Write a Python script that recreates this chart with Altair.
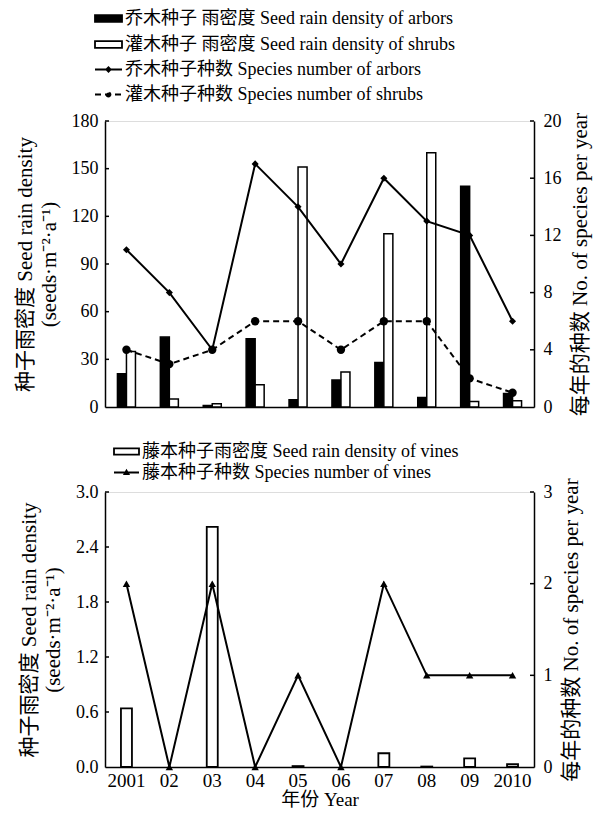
import altair as alt
import pandas as pd

# ---------------- data ----------------
years = ["2001", "02", "03", "04", "05", "06", "07", "08", "09", "2010"]
arbor_density = [21, 44, 1, 43, 4.5, 17, 28, 6, 139, 8.5]
shrub_density = [35, 5, 2, 14, 151, 22, 109, 160, 3.5, 4]
arbor_species = [11, 8, 4, 17, 14, 10, 16, 13, 12, 6]
shrub_species = [4, 3, 4, 6, 6, 4, 6, 6, 2, 1]
vine_density = [0.64, 0, 2.62, 0, 0.01, 0, 0.15, 0.005, 0.095, 0.03]
vine_species = [2, 0, 2, 0, 1, 0, 2, 1, 1, 1]

left_top_ticks = [0, 30, 60, 90, 120, 150, 180]
right_top_ticks = [0, 4, 8, 12, 16, 20]
left_bot_ticks = [0.0, 0.6, 1.2, 1.8, 2.4, 3.0]
right_bot_ticks = [0, 1, 2, 3]

L_ARB_D = "乔木种子 雨密度 Seed rain density of arbors"
L_SHR_D = "灌木种子 雨密度 Seed rain density of shrubs"
L_ARB_S = "乔木种子种数 Species number of arbors"
L_SHR_S = "灌木种子种数 Species number of shrubs"
L_VIN_D = "藤本种子雨密度  Seed rain density of vines"
L_VIN_S = "藤本种子种数 Species number of vines"

LEFT_TITLE = ["种子雨密度  Seed rain density", "(seeds·m⁻²·a⁻¹)"]
RIGHT_TITLE = "每年的种数 No. of species per year"
X_TITLE = "年份 Year"

FONT = "Liberation Serif, Noto Sans CJK SC"
W = 429

# ---------------- tables ----------------
df_bars = pd.DataFrame({
    "year": years * 2,
    "series": [L_ARB_D] * len(years) + [L_SHR_D] * len(years),
    "value": arbor_density + shrub_density,
})
df_arb = pd.DataFrame({"year": years, "n": arbor_species, "s": [L_ARB_S] * len(years)})
df_shr = pd.DataFrame({"year": years, "n": shrub_species, "s": [L_SHR_S] * len(years)})
df_vd = pd.DataFrame({"year": years, "value": vine_density, "s": [L_VIN_D] * len(years)})
df_vs = pd.DataFrame({"year": years, "n": vine_species, "s": [L_VIN_S] * len(years)})

RECT_PATH = "M-1,-0.25H1V0.25H-1Z"
DIAMOND_LINE = "M-1,0H1M-0.16,0L0,-0.16L0.16,0L0,0.16Z"
CIRCLE_LINE = "M-1,0H1M0.15,0A0.15,0.15 0 1 1 -0.15,0A0.15,0.15 0 1 1 0.15,0Z"
TRI_LINE = "M-1,0H1M-0.16,0.12L0,-0.16L0.16,0.12Z"


def legend(x, y, sym, size=729, row_pad=4):
    return alt.Legend(orient="none", legendX=x, legendY=y, title=None, symbolType=sym,
                      symbolSize=size, symbolStrokeColor="black", symbolStrokeWidth=1.8,
                      symbolFillColor="black", labelFont=FONT, labelFontSize=18,
                      labelColor="black", labelLimit=0, labelOffset=2, rowPadding=row_pad,
                      padding=0)


def y_axis(orient, values, fmt):
    common = dict(values=values, format=fmt, tickSize=0, grid=False, domainColor="black",
                  domainWidth=1.5, labelFont=FONT, labelFontSize=18, labelColor="black",
                  titleFont=FONT, titleFontSize=21, titleFontWeight="normal",
                  titleColor="black")
    if orient == "left":
        return alt.Axis(orient="left", title=LEFT_TITLE, labelPadding=7, titlePadding=12,
                        titleLineHeight=24, **common)
    return alt.Axis(orient="right", title=RIGHT_TITLE, labelPadding=9, titlePadding=8,
                    titleAngle=270, titleBaseline="top", **common)


X_SCALE = alt.Scale(domain=years, paddingInner=0.58, paddingOuter=0.29)


def x_enc(show):
    if show:
        ax = alt.Axis(title=X_TITLE, ticks=False, labelAngle=0, labelPadding=4,
                      domainColor="black", domainWidth=1.5, labelFont=FONT, labelFontSize=19,
                      labelColor="black", titleFont=FONT, titleFontSize=19,
                      titleFontWeight="normal", titleColor="black", titlePadding=0)
    else:
        ax = alt.Axis(title=None, labels=False, ticks=False, domainColor="black",
                      domainWidth=1.5)
    return alt.X("year:N", scale=X_SCALE, axis=ax)


def ticks(values, side, domain):
    d = pd.DataFrame({"v": values})
    xs = (alt.value(0), alt.value(4)) if side == "left" else (alt.value(W - 4), alt.value(W))
    return alt.Chart(d).mark_rule(color="black", strokeWidth=1.5).encode(
        y=alt.Y("v:Q", scale=alt.Scale(domain=domain, nice=False), axis=None),
        x=xs[0], x2=xs[1])


# ---------------- top panel ----------------
D_TL = [0, 180]
D_TR = [0, 20]
XT = x_enc(False)

bars = alt.Chart(df_bars).mark_bar(stroke="black", strokeWidth=1.5).encode(
    x=XT,
    xOffset=alt.XOffset("series:N", scale=alt.Scale(domain=[L_ARB_D, L_SHR_D],
                                                      paddingInner=0, paddingOuter=0)),
    y=alt.Y("value:Q", scale=alt.Scale(domain=D_TL, nice=False),
            axis=y_axis("left", left_top_ticks, "d")),
    fill=alt.Fill("series:N", scale=alt.Scale(domain=[L_ARB_D, L_SHR_D],
                                              range=["black", "white"]),
                  legend=legend(-11, -117, RECT_PATH, row_pad=2)),
)

arb_line = alt.Chart(df_arb).mark_line(strokeWidth=2).encode(
    x=XT,
    y=alt.Y("n:Q", scale=alt.Scale(domain=D_TR, nice=False),
            axis=y_axis("right", right_top_ticks, "d")),
    stroke=alt.Stroke("s:N", scale=alt.Scale(domain=[L_ARB_S], range=["black"]),
                      legend=legend(-11, -66, DIAMOND_LINE)),
)
arb_pts = alt.Chart(df_arb).mark_point(shape="diamond", filled=True, size=50,
                                       color="black", opacity=1).encode(
    x=XT, y=alt.Y("n:Q", scale=alt.Scale(domain=D_TR, nice=False), axis=None))
shr_line = alt.Chart(df_shr).mark_line(strokeWidth=2, color="black").encode(
    x=XT,
    y=alt.Y("n:Q", scale=alt.Scale(domain=D_TR, nice=False), axis=None),
    strokeDash=alt.StrokeDash("s:N", scale=alt.Scale(domain=[L_SHR_S], range=[[6, 4]]),
                              legend=legend(-11, -41, CIRCLE_LINE)),
)
shr_pts = alt.Chart(df_shr).mark_point(shape="circle", filled=True, size=70,
                                       color="black", opacity=1).encode(
    x=XT, y=alt.Y("n:Q", scale=alt.Scale(domain=D_TR, nice=False), axis=None))

top = alt.layer(
    bars, ticks(left_top_ticks[1:], "left", D_TL),
    arb_line, arb_pts, shr_line, shr_pts, ticks(right_top_ticks[1:], "right", D_TR),
).resolve_scale(y="independent").properties(width=W, height=286)

# ---------------- bottom panel ----------------
D_BL = [0, 3]
D_BR = [0, 3]
XB = x_enc(True)

vbars = alt.Chart(df_vd).transform_filter("datum.value > 0").mark_bar(
    stroke="black", strokeWidth=1.8, width=11).encode(
    x=XB,
    y=alt.Y("value:Q", scale=alt.Scale(domain=D_BL, nice=False),
            axis=y_axis("left", left_bot_ticks, ".1f")),
    fill=alt.Fill("s:N", scale=alt.Scale(domain=[L_VIN_D], range=["white"]),
                  legend=legend(8, -54, RECT_PATH, size=625)),
)
v_line = alt.Chart(df_vs).mark_line(strokeWidth=2).encode(
    x=XB,
    y=alt.Y("n:Q", scale=alt.Scale(domain=D_BR, nice=False),
            axis=y_axis("right", right_bot_ticks, "d")),
    stroke=alt.Stroke("s:N", scale=alt.Scale(domain=[L_VIN_S], range=["black"]),
                      legend=legend(8, -33, TRI_LINE, size=625)),
)
v_pts = alt.Chart(df_vs).mark_point(shape="triangle-up", filled=True, size=55,
                                    color="black", opacity=1).encode(
    x=XB, y=alt.Y("n:Q", scale=alt.Scale(domain=D_BR, nice=False), axis=None))

bottom = alt.layer(
    vbars, ticks(left_bot_ticks[1:], "left", D_BL),
    v_line, v_pts, ticks(right_bot_ticks[1:], "right", D_BR),
).resolve_scale(y="independent").properties(width=W, height=275)

chart = alt.vconcat(top, bottom, spacing=20).resolve_scale(
    fill="independent", stroke="independent", strokeDash="independent"
).resolve_legend(
    fill="independent", stroke="independent", strokeDash="independent"
).properties(
    padding={"left": 5, "top": -5, "right": 5, "bottom": 5}
).configure_view(stroke=None).configure(font=FONT)

chart.save("out.html", embed_options={"renderer": "svg", "actions": False})
